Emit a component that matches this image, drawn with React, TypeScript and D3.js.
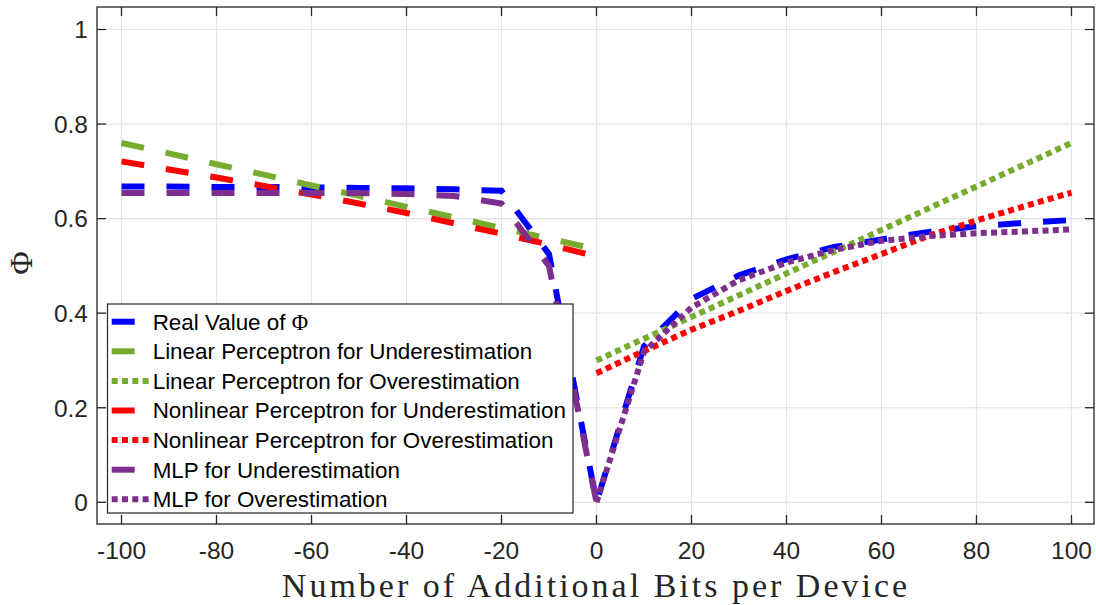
import * as d3 from "d3";

// x positions (additional bits per device)
const xUnder = [-100, -90, -80, -70, -60, -50, -40, -30, -20, -10, 0];
const xOver = [0, 10, 20, 30, 40, 50, 60, 70, 80, 90, 100];
const xAll = [-100, -90, -80, -70, -60, -50, -40, -30, -20, -10, 0, 10, 20, 30, 40, 50, 60, 70, 80, 90, 100];

const realPhi = [0.668, 0.668, 0.667, 0.667, 0.666, 0.665, 0.664, 0.662, 0.659, 0.525, 0, 0.33, 0.43, 0.48, 0.514, 0.54, 0.556, 0.572, 0.584, 0.591, 0.597];
const linUnder = [0.76, 0.738, 0.715, 0.693, 0.67, 0.648, 0.625, 0.603, 0.58, 0.558, 0.535];
const linOver = [0.3, 0.346, 0.392, 0.438, 0.484, 0.53, 0.576, 0.622, 0.668, 0.714, 0.76];
const nonlinUnder = [0.721, 0.704, 0.687, 0.669, 0.651, 0.632, 0.612, 0.59, 0.568, 0.545, 0.52];
const nonlinOver = [0.273, 0.32, 0.365, 0.405, 0.447, 0.487, 0.525, 0.564, 0.596, 0.626, 0.655];
const mlpUnder = [0.654, 0.654, 0.654, 0.654, 0.654, 0.654, 0.652, 0.648, 0.632, 0.5, 0];
const mlpOver = [0, 0.318, 0.412, 0.47, 0.507, 0.534, 0.553, 0.563, 0.569, 0.573, 0.577];

const xTicks = [-100, -80, -60, -40, -20, 0, 20, 40, 60, 80, 100];
const yTicks = [0, 0.2, 0.4, 0.6, 0.8, 1];

const DASH = "23 22";
const DOT = "6 4.3";

const series = [
  { name: "Real Value of ", phi: true, xs: xAll, ys: realPhi, color: "#0000ff", dash: DASH },
  { name: "Linear Perceptron for Underestimation", xs: xUnder, ys: linUnder, color: "#77ac30", dash: DASH },
  { name: "Linear Perceptron for Overestimation", xs: xOver, ys: linOver, color: "#77ac30", dash: DOT },
  { name: "Nonlinear Perceptron for Underestimation", xs: xUnder, ys: nonlinUnder, color: "#ff0000", dash: DASH },
  { name: "Nonlinear Perceptron for Overestimation", xs: xOver, ys: nonlinOver, color: "#ff0000", dash: DOT },
  { name: "MLP for Underestimation", xs: xUnder, ys: mlpUnder, color: "#7e2f8e", dash: DASH },
  { name: "MLP for Overestimation", xs: xOver, ys: mlpOver, color: "#7e2f8e", dash: DOT },
];

const SANS = "'Liberation Sans', Arial, Helvetica, sans-serif";
const SERIF = "'Liberation Serif', 'Times New Roman', serif";
const AXIS = "#262626";

export default function App() {
  const W = 1096;
  const H = 605;
  const x = d3.scaleLinear().domain([-105.16, 104.74]).range([97, 1094]);
  const y = d3.scaleLinear().domain([-0.0459, 1.0476]).range([524, 7]);
  const [x0, x1] = x.range();
  const [y0, y1] = y.range();
  const tick = 9;

  const line = d3
    .line<[number, number]>()
    .x((d) => x(d[0]))
    .y((d) => y(d[1]));

  const legend = { left: 107.5, top: 304, right: 573, bottom: 513, first: 321.7, step: 29.6 };

  return (
    <svg
      width={W}
      height={H}
      viewBox={`0 0 ${W} ${H}`}
      style={{ position: "absolute", left: 0, top: 0, background: "#fff" }}
    >
      <rect x={0} y={0} width={W} height={H} fill="#fff" />
      {/* grid */}
      <g stroke="#e3e3e3" strokeWidth={1.2}>
        {xTicks.map((t) => (
          <line key={"gx" + t} x1={x(t)} x2={x(t)} y1={y0} y2={y1} />
        ))}
        {yTicks.map((t) => (
          <line key={"gy" + t} x1={x0} x2={x1} y1={y(t)} y2={y(t)} />
        ))}
      </g>

      {/* data lines */}
      <g fill="none" strokeWidth={6} strokeLinecap="butt" strokeLinejoin="miter">
        {series.map((s, i) => (
          <path
            key={i}
            d={line(s.xs.map((v, j) => [v, s.ys[j]] as [number, number])) || ""}
            stroke={s.color}
            strokeDasharray={s.dash}
          />
        ))}
      </g>

      {/* box + ticks */}
      <g stroke={AXIS} strokeWidth={1.3} fill="none">
        <rect x={x0} y={y1} width={x1 - x0} height={y0 - y1} />
        {xTicks.map((t) => (
          <g key={"tx" + t}>
            <line x1={x(t)} x2={x(t)} y1={y0} y2={y0 - tick} />
            <line x1={x(t)} x2={x(t)} y1={y1} y2={y1 + tick} />
          </g>
        ))}
        {yTicks.map((t) => (
          <g key={"ty" + t}>
            <line x1={x0} x2={x0 + tick} y1={y(t)} y2={y(t)} />
            <line x1={x1} x2={x1 - tick} y1={y(t)} y2={y(t)} />
          </g>
        ))}
      </g>

      {/* tick labels */}
      <g fontFamily={SANS} fontSize={24.5} fill={AXIS}>
        {xTicks.map((t) => (
          <text key={"lx" + t} x={x(t)} y={559} textAnchor="middle">
            {t}
          </text>
        ))}
        {yTicks.map((t) => (
          <text key={"ly" + t} x={88} y={y(t) + 8.8} textAnchor="end">
            {t === 0 || t === 1 ? String(t) : t.toFixed(1)}
          </text>
        ))}
      </g>

      {/* axis labels */}
      <text
        x={596}
        y={597}
        textAnchor="middle"
        fontFamily={SERIF}
        fontSize={34}
        letterSpacing={3}
        fill={AXIS}
      >
        Number of Additional Bits per Device
      </text>
      <text
        transform="translate(32,263) rotate(-90)"
        textAnchor="middle"
        fontFamily={SERIF}
        fontSize={32}
        fill={AXIS}
      >
        Φ
      </text>

      {/* legend */}
      <g>
        <rect
          x={legend.left}
          y={legend.top}
          width={legend.right - legend.left}
          height={legend.bottom - legend.top}
          fill="#fff"
          stroke={AXIS}
          strokeWidth={1.2}
        />
        {series.map((s, i) => {
          const cy = legend.first + i * legend.step;
          return (
            <g key={"lg" + i}>
              <line
                x1={111.7}
                x2={149}
                y1={cy}
                y2={cy}
                stroke={s.color}
                strokeWidth={6}
                strokeDasharray={s.dash}
              />
              <text x={152.7} y={cy + 7.8} fontFamily={SANS} fontSize={22.4} fill="#000">
                {s.name}
                {s.phi ? <tspan fontFamily={SERIF}>Φ</tspan> : null}
              </text>
            </g>
          );
        })}
      </g>
    </svg>
  );
}
